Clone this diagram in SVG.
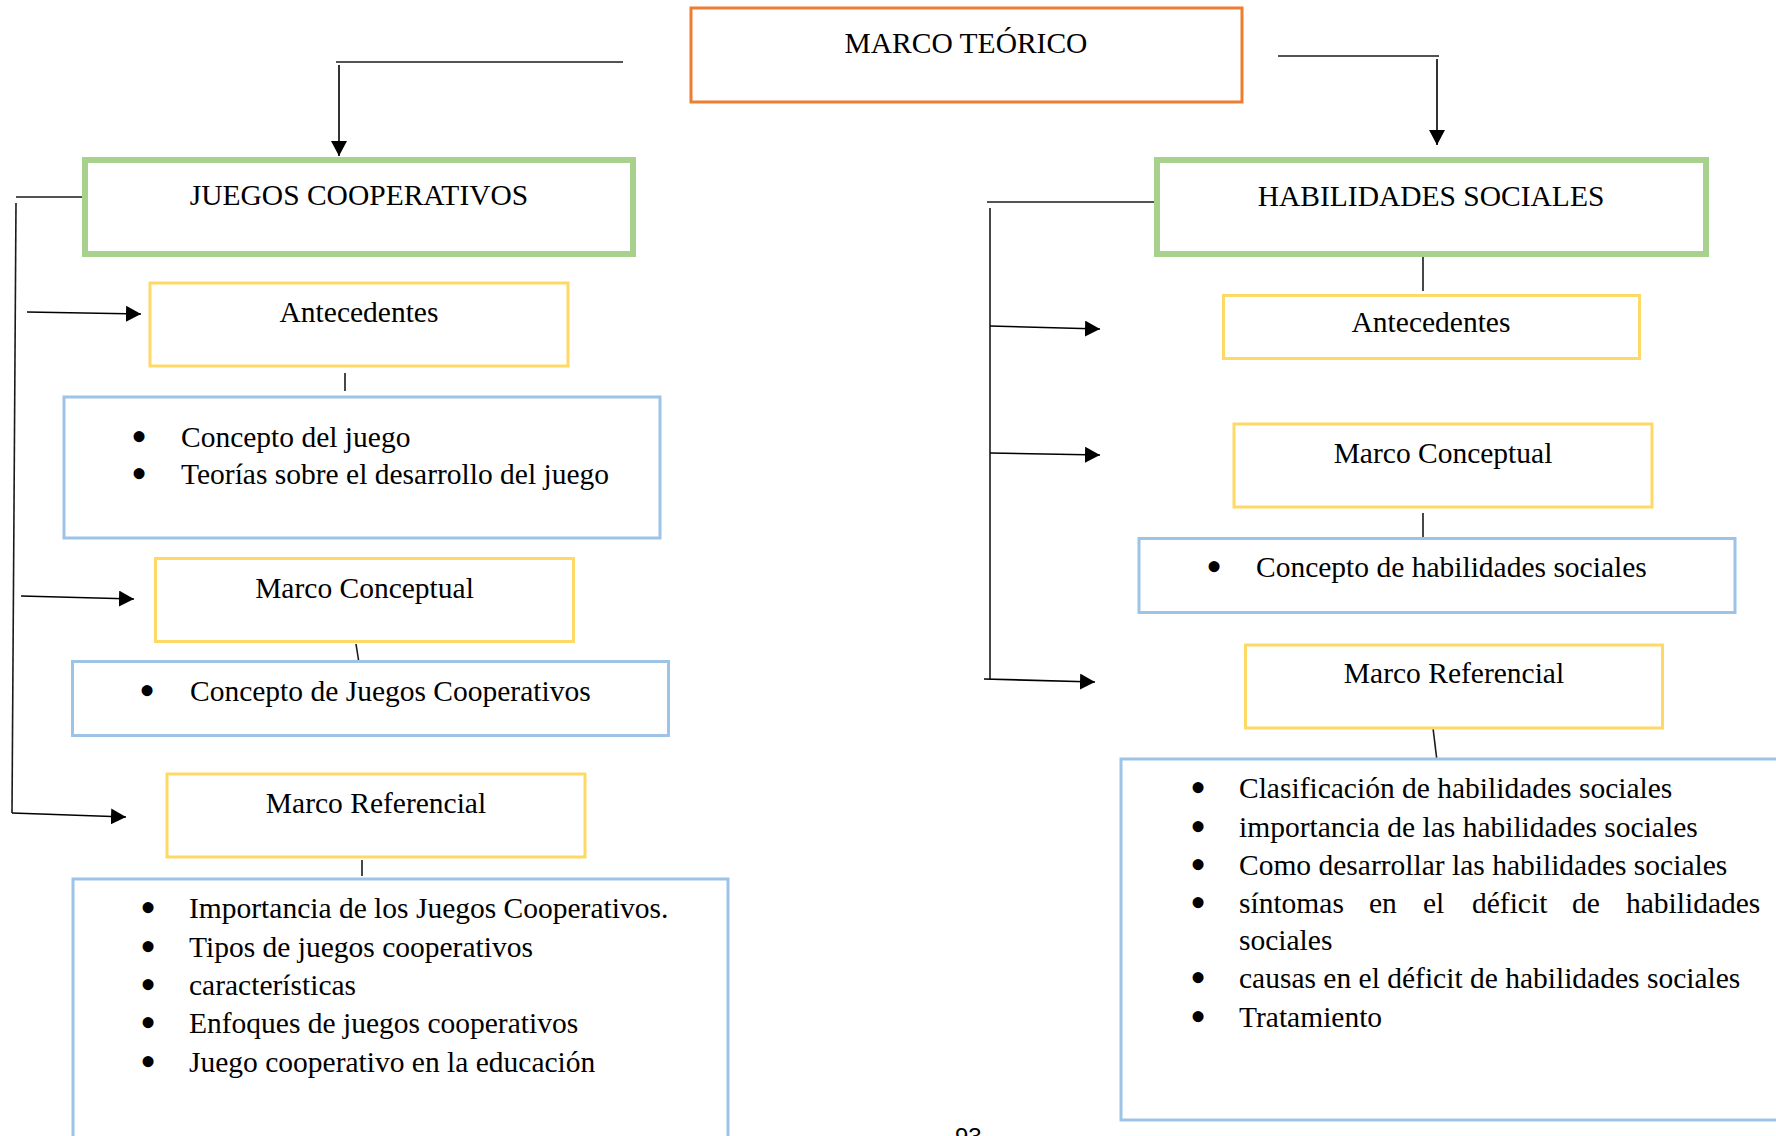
<svg xmlns="http://www.w3.org/2000/svg" width="1776" height="1136" viewBox="0 0 1776 1136">
<defs>
<marker id="arr" markerUnits="userSpaceOnUse" markerWidth="16" markerHeight="16" refX="15" refY="8" orient="auto">
<path d="M0,0 L15,8 L0,16 z" fill="#000"/>
</marker>
<style>
.t{font-family:"Liberation Serif","Times New Roman",serif;font-size:29.5px;fill:#000}
.c{text-anchor:middle}
.b{font-family:"Liberation Serif","Times New Roman",serif;font-size:46px;fill:#000}
.or{fill:#fff;stroke:#ED7D31;stroke-width:3}
.gr{fill:#fff;stroke:#A9D18E;stroke-width:6}
.ye{fill:#fff;stroke:#FFD966;stroke-width:3}
.bl{fill:#fff;stroke:#9DC3E6;stroke-width:3}
.ln{stroke:#1a1a1a;stroke-width:1.6;fill:none}
.ar{stroke:#000;stroke-width:1.6;fill:none;marker-end:url(#arr)}
</style>
</defs>
<rect width="1776" height="1136" fill="#fff"/>

<g id="connectors">
<line class="ln" x1="336" y1="62" x2="623" y2="62"/>
<line class="ar" x1="339" y1="65" x2="339" y2="156"/>
<line class="ln" x1="1278" y1="56" x2="1439" y2="56"/>
<line class="ar" x1="1437" y1="59" x2="1437" y2="145"/>
<line class="ln" x1="16" y1="197" x2="82" y2="197"/>
<line class="ln" x1="16" y1="203" x2="12" y2="813"/>
<line class="ar" x1="27" y1="312" x2="141" y2="314"/>
<line class="ar" x1="21" y1="596" x2="134" y2="599"/>
<line class="ar" x1="12" y1="813" x2="126" y2="817"/>
<line class="ln" x1="345" y1="373" x2="345" y2="391"/>
<line class="ln" x1="356" y1="644" x2="359" y2="663"/>
<line class="ln" x1="362" y1="860" x2="362" y2="876"/>
<line class="ln" x1="987" y1="202" x2="1158" y2="202"/>
<line class="ln" x1="990" y1="208" x2="990" y2="679"/>
<line class="ar" x1="990" y1="326" x2="1100" y2="329"/>
<line class="ar" x1="990" y1="453" x2="1100" y2="455"/>
<line class="ar" x1="984" y1="679" x2="1095" y2="682"/>
<line class="ln" x1="1423" y1="257" x2="1423" y2="291"/>
<line class="ln" x1="1423" y1="513" x2="1423" y2="537"/>
<line class="ln" x1="1433" y1="728" x2="1437" y2="761"/>
</g>

<g id="marco-teorico">
<rect class="or" x="691" y="8" width="551" height="94"/>
<text class="t c" x="966" y="53">MARCO TEÓRICO</text>
</g>

<g id="juegos-cooperativos">
<rect class="gr" x="85" y="160" width="548" height="94"/>
<text class="t c" x="359" y="205">JUEGOS COOPERATIVOS</text>
</g>

<g id="habilidades-sociales">
<rect class="gr" x="1157" y="160" width="549" height="94"/>
<text class="t c" x="1431" y="206">HABILIDADES SOCIALES</text>
</g>

<g id="antecedentes-jc">
<rect class="ye" x="150" y="283" width="418" height="83"/>
<text class="t c" x="359" y="322">Antecedentes</text>
</g>

<g id="lista-antecedentes-jc">
<rect class="bl" x="64" y="397" width="596" height="141"/>
<text class="b" x="131" y="452">•</text>
<text class="t" x="181" y="447">Concepto del juego</text>
<text class="b" x="131" y="489">•</text>
<text class="t" x="181" y="484">Teorías sobre el desarrollo del juego</text>
</g>

<g id="marco-conceptual-jc">
<rect class="ye" x="155.5" y="558.5" width="418" height="83"/>
<text class="t c" x="364.5" y="598">Marco Conceptual</text>
</g>

<g id="lista-conceptual-jc">
<rect class="bl" x="72.5" y="661.5" width="596" height="74"/>
<text class="b" x="139" y="706">•</text>
<text class="t" x="190" y="701">Concepto de Juegos Cooperativos</text>
</g>

<g id="marco-referencial-jc">
<rect class="ye" x="167" y="774" width="418" height="83"/>
<text class="t c" x="376" y="813">Marco Referencial</text>
</g>

<g id="lista-referencial-jc">
<rect class="bl" x="73" y="879" width="655" height="320"/>
<text class="b" x="140" y="923">•</text>
<text class="t" x="189" y="918">Importancia de los Juegos Cooperativos.</text>
<text class="b" x="140" y="962">•</text>
<text class="t" x="189" y="957">Tipos de juegos cooperativos</text>
<text class="b" x="140" y="1000">•</text>
<text class="t" x="189" y="995">características</text>
<text class="b" x="140" y="1038">•</text>
<text class="t" x="189" y="1033">Enfoques de juegos cooperativos</text>
<text class="b" x="140" y="1077">•</text>
<text class="t" x="189" y="1072">Juego cooperativo en la educación</text>
</g>

<g id="antecedentes-hs">
<rect class="ye" x="1223.5" y="295.5" width="416" height="63"/>
<text class="t c" x="1431" y="332">Antecedentes</text>
</g>

<g id="marco-conceptual-hs">
<rect class="ye" x="1234" y="424" width="418" height="83"/>
<text class="t c" x="1443" y="463">Marco Conceptual</text>
</g>

<g id="lista-conceptual-hs">
<rect class="bl" x="1139" y="538.5" width="596" height="74"/>
<text class="b" x="1206" y="582">•</text>
<text class="t" x="1256" y="577">Concepto de habilidades sociales</text>
</g>

<g id="marco-referencial-hs">
<rect class="ye" x="1245.5" y="645" width="417" height="83"/>
<text class="t c" x="1454" y="683">Marco Referencial</text>
</g>

<g id="lista-referencial-hs">
<rect class="bl" x="1121" y="759" width="700" height="361"/>
<text class="b" x="1190" y="803">•</text>
<text class="t" x="1239" y="798">Clasificación de habilidades sociales</text>
<text class="b" x="1190" y="842">•</text>
<text class="t" x="1239" y="837">importancia de las habilidades sociales</text>
<text class="b" x="1190" y="880">•</text>
<text class="t" x="1239" y="875">Como desarrollar las habilidades sociales</text>
<text class="b" x="1190" y="918">•</text>
<text class="t" y="913"><tspan x="1239">síntomas</tspan> <tspan x="1369">en</tspan> <tspan x="1423">el</tspan> <tspan x="1472">déficit</tspan> <tspan x="1572">de</tspan> <tspan x="1626">habilidades</tspan></text>
<text class="t" x="1239" y="950">sociales</text>
<text class="b" x="1190" y="993">•</text>
<text class="t" x="1239" y="988">causas en el déficit de habilidades sociales</text>
<text class="b" x="1190" y="1032">•</text>
<text class="t" x="1239" y="1027">Tratamiento</text>
</g>

<text x="955" y="1145" style="font-family:'Liberation Sans',Arial,sans-serif;font-size:24px;fill:#000">93</text>
</svg>
